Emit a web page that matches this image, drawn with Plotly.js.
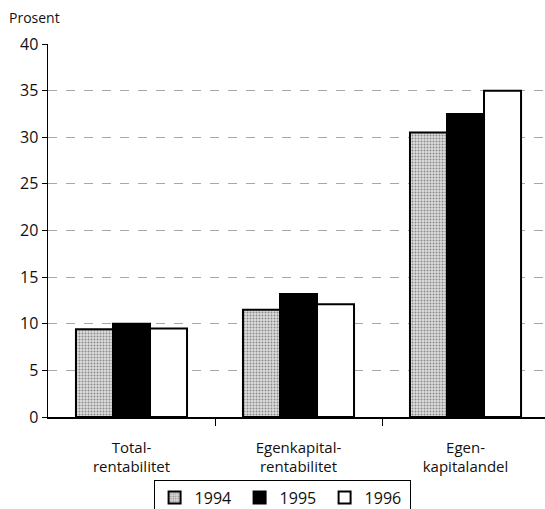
<!DOCTYPE html>
<html>
<head>
<meta charset="utf-8">
<script src="https://cdn.plot.ly/plotly-3.0.1.min.js"></script>
<style>html,body{margin:0;padding:0;background:#fff;}#chart{width:545px;height:509px;}</style>
</head>
<body>
<div id="chart"></div>
<script>
const categories = ["Total-<br>rentabilitet", "Egenkapital-<br>rentabilitet", "Egen-<br>kapitalandel"];
const years = ["1994", "1995", "1996"];
const values1994 = [9.4, 11.5, 30.5];
const values1995 = [10.0, 13.2, 32.5];
const values1996 = [9.5, 12.1, 35.0];
const yTicks = [0, 5, 10, 15, 20, 25, 30, 35, 40];

const xpos = categories.map((c, i) => i);
const font = "Open Sans, Noto Sans, sans-serif";

const mk = (name, vals, marker) => ({
  type: 'bar', name: name, x: xpos, y: vals, marker: marker, hoverinfo: 'y'
});

const traces = [
  mk(years[0], values1994, {color: '#d9d9d9', line: {color: '#000', width: 2},
    pattern: {shape: '.', fgcolor: '#8a8a8a', bgcolor: '#dedede', size: 3, solidity: 0.35}}),
  mk(years[1], values1995, {color: '#000', line: {color: '#000', width: 2}}),
  mk(years[2], values1996, {color: '#fff', line: {color: '#000', width: 2}})
];

const layout = {
  width: 545, height: 509,
  margin: {l: 48, r: 0, t: 44, b: 92, autoexpand: false},
  paper_bgcolor: '#fff', plot_bgcolor: '#fff',
  barmode: 'group', bargap: 0.335, bargroupgap: 0,
  font: {family: font, size: 15, color: '#111'},
  showlegend: true,
  legend: {
    orientation: 'h', x: 0.471, xanchor: 'center', y: -0.168, yanchor: 'top',
    bordercolor: '#000', borderwidth: 1, font: {size: 16, color: '#111'},
    entrywidth: 40, entrywidthmode: 'pixels', itemwidth: 30, tracegroupgap: 0, traceorder: 'normal'
  },
  xaxis: {
    range: [-0.5, 2.476], tickmode: 'array', tickvals: xpos, ticktext: categories,
    ticks: '', showgrid: false, zeroline: false,
    showline: true, linecolor: '#000', linewidth: 1.5,
    ticklabelstandoff: 16, tickfont: {size: 15, color: '#111'},
    minor: {tickmode: 'array', tickvals: [0.5, 1.5], ticks: 'outside', ticklen: 7, tickwidth: 1, tickcolor: '#000', showgrid: false},
    fixedrange: true
  },
  yaxis: {
    range: [0, 40], tickmode: 'array', tickvals: yTicks,
    ticks: 'outside', ticklen: 5, tickwidth: 1, tickcolor: '#000',
    showline: true, linecolor: '#000', linewidth: 1.5,
    showgrid: true, gridcolor: '#a8a8a8', gridwidth: 1, griddash: 'dash',
    zeroline: false, tickfont: {size: 16, color: '#111'}, fixedrange: true
  },
  annotations: [{
    text: 'Prosent', xref: 'paper', yref: 'paper', x: -0.082, y: 1.07,
    xanchor: 'left', yanchor: 'middle', showarrow: false, font: {size: 14, color: '#111'}
  }]
};

Plotly.newPlot('chart', traces, layout, {displayModeBar: false, staticPlot: true});
</script>
</body>
</html>
